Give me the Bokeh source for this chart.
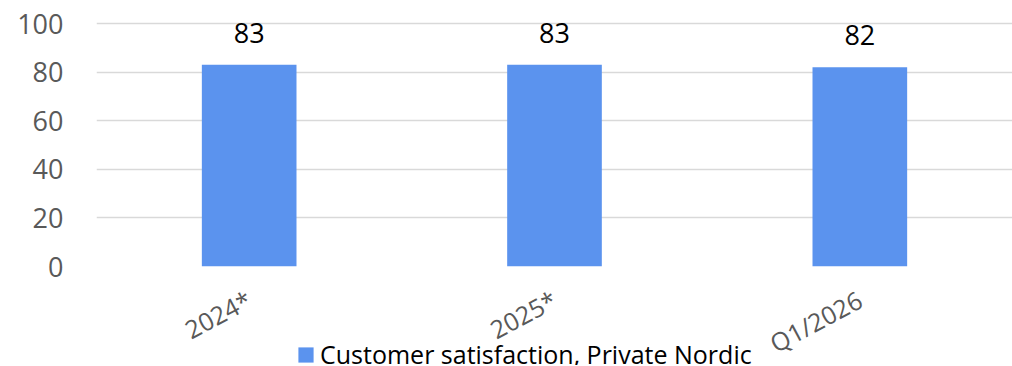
from bokeh.plotting import figure
from bokeh.models import Range1d, FixedTicker, Legend, LegendItem, ColumnDataSource, FactorRange
from bokeh.layouts import column
from bokeh.core.properties import value
from bokeh.embed import file_html
from bokeh.resources import INLINE

categories = ["2024*", "2025*", "Q1/2026"]
satisfaction = [83, 83, 82]
series_name = "Customer satisfaction, Private Nordic"
y_ticks = [0, 20, 40, 60, 80, 100]

FONT = "Open Sans"
BAR = "#5b93ee"
GRAY = "#595959"

src = ColumnDataSource(dict(cat=categories, val=satisfaction, lbl=[str(v) for v in satisfaction]))

p = figure(frame_width=916, frame_height=266, x_range=FactorRange(*categories),
           y_range=Range1d(0, 109.5), output_backend="svg", toolbar_location=None,
           min_border_left=96, min_border_right=0, min_border_top=0, min_border_bottom=0)
p.outline_line_color = None
p.background_fill_color = "white"

r = p.vbar(x="cat", top="val", width=0.31, source=src, fill_color=BAR, line_color=None)

p.text(x="cat", y="val", text="lbl", source=src, text_align="center", text_baseline="bottom",
       y_offset=-22, text_font=value(FONT), text_font_size="27px", text_color="black")

p.xgrid.grid_line_color = None
p.ygrid.grid_line_color = "#d9d9d9"
p.ygrid.grid_line_width = 1.5
p.yaxis.ticker = FixedTicker(ticks=y_ticks)
p.yaxis.axis_line_color = None
p.yaxis.major_tick_line_color = None
p.yaxis.minor_tick_line_color = None
p.yaxis.major_label_standoff = 27
p.yaxis.major_label_text_font = FONT
p.yaxis.major_label_text_font_size = "27px"
p.yaxis.major_label_text_color = GRAY

p.xaxis.axis_line_color = None
p.xaxis.major_tick_line_color = None
p.xaxis.major_tick_out = 0
p.xaxis.major_label_orientation = 0.49
p.xaxis.major_label_standoff = 31
p.xaxis.major_label_text_font = FONT
p.xaxis.major_label_text_font_size = "25px"
p.xaxis.major_label_text_color = GRAY

# legend strip, pulled up to sit under the tick labels
lf = figure(width=1012, height=30, x_range=FactorRange(*categories), y_range=Range1d(200, 300),
            x_axis_location=None, y_axis_location=None, output_backend="svg", toolbar_location=None,
            min_border_left=0, min_border_right=0, min_border_top=0, min_border_bottom=0,
            margin=(-42, 0, 0, 0))
lf.outline_line_color = None
lf.background_fill_alpha = 0
lf.border_fill_alpha = 0
lf.xgrid.visible = False
lf.ygrid.visible = False
lr = lf.vbar(x="cat", top="val", width=0.31, source=src, fill_color=BAR, line_color=None, visible=False)

legend = Legend(items=[LegendItem(label=series_name, renderers=[lr])],
                location=(200, -6), orientation="horizontal",
                glyph_width=19, glyph_height=19, label_standoff=5,
                padding=0, margin=0, spacing=0,
                border_line_color=None, background_fill_alpha=0,
                label_text_font=FONT, label_text_font_size="25px", label_text_color="black")
lf.add_layout(legend, "center")

layout = column(p, lf, spacing=0, styles={"overflow": "hidden"})
open("out.html", "w").write(file_html(layout, INLINE))
